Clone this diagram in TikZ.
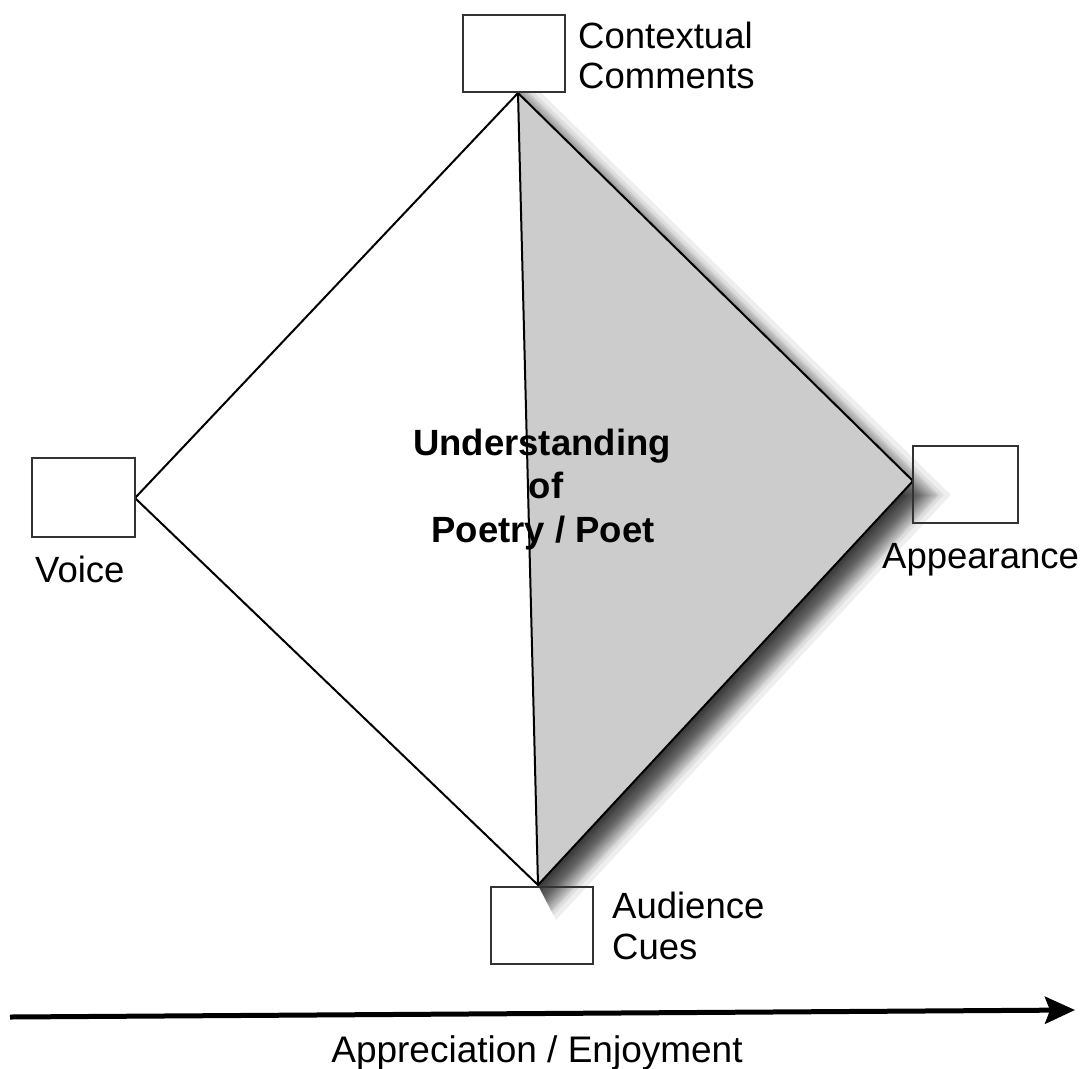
\documentclass[tikz,border=0pt]{standalone}
\usepackage{fontspec}
\setmainfont{Liberation Sans}
\usetikzlibrary{arrows.meta}
\begin{document}
\begin{tikzpicture}[x=1pt,y=-1pt,
  markbox/.style={draw=black!80,line width=2.5pt,minimum width=102pt,minimum height=77pt,inner sep=0pt,outer sep=0pt},
  lbl/.style={font=\fontsize{36.5}{41}\selectfont,inner sep=0pt},
  mid/.style={font=\fontsize{36.5}{43}\selectfont\bfseries,inner sep=0pt,anchor=base},
  edge/.style={draw=black,line width=2pt,line join=round}]
  \useasboundingbox (0,0) rectangle (1083,1068);

  % corner vertices of the diamond
  \coordinate (t) at (518,93);
  \coordinate (l) at (135,498);
  \coordinate (r) at (913,481);
  \coordinate (b) at (538,885);

  % soft drop shadow: stacked copies of the shaded triangle, each grown
  % evenly about its incentre (688.8,486.2) by \d and moved down
  \begin{scope}
    \clip (518,93) -- (1083,93) -- (1083,1000) -- (592,990) -- (538,885) -- cycle;
    \foreach \d in {-8,-5,-2,1,2.5,4,5.5,6.5,8,10,11.5,13,14.5,15.5,17,18,19.5,21,22.5,24,26,27.5,29,32,37}{
      \pgfmathsetmacro\k{1+\d/160.8}
      \begin{scope}[shift={(-13.9,15)},shift={(688.8,486.2)},scale=\k,shift={(-688.8,-486.2)}]
        \fill[black,opacity=0.065] (518,93) -- (913,481) -- (538,885) -- cycle;
      \end{scope}
    }
  \end{scope}

  % shaded right half
  \fill[black!20] (t) -- (r) -- (b) -- cycle;

  % diamond outline and centre line
  \draw[edge] (t) -- (r) -- (b) -- (l) -- cycle;
  \draw[edge] (t) -- (b);

  % the four boxes
  \node[markbox] (topbox) at (514,53.5) {};
  \node[markbox,minimum width=103pt,minimum height=79pt] (leftbox) at (83.5,497.5) {};
  \node[markbox,minimum width=105pt] (rightbox) at (965.5,484.5) {};
  \node[markbox] (bottombox) at (542,925.5) {};

  % labels
  \node[lbl,anchor=base west] (ctx) at (578,48) {Contextual};
  \node[lbl,anchor=base west] (ctx2) at (578,88) {Comments};
  \node[lbl,anchor=base west] (voice) at (35,582) {Voice};
  \node[lbl,anchor=base west] (app) at (882,568) {Appearance};
  \node[lbl,anchor=base west] (aud) at (612,918) {Audience};
  \node[lbl,anchor=base west] (cues) at (612,959) {Cues};

  % centre caption
  \node[mid] (u1) at (542,455) {Understanding};
  \node[mid] (u2) at (546,498) {of};
  \node[mid] (u3) at (543,542) {Poetry / Poet};

  % axis arrow
  \coordinate (a0) at (10,1017);
  \coordinate (a1) at (1075,1010);
  \draw[line width=5pt,-{Stealth[length=30pt,width=27pt,inset=5pt]}] (a0) -- (a1);
  \node[font=\fontsize{37}{41}\selectfont,inner sep=0pt,anchor=base] (axis) at (537,1062) {Appreciation / Enjoyment};
\end{tikzpicture}
\end{document}
